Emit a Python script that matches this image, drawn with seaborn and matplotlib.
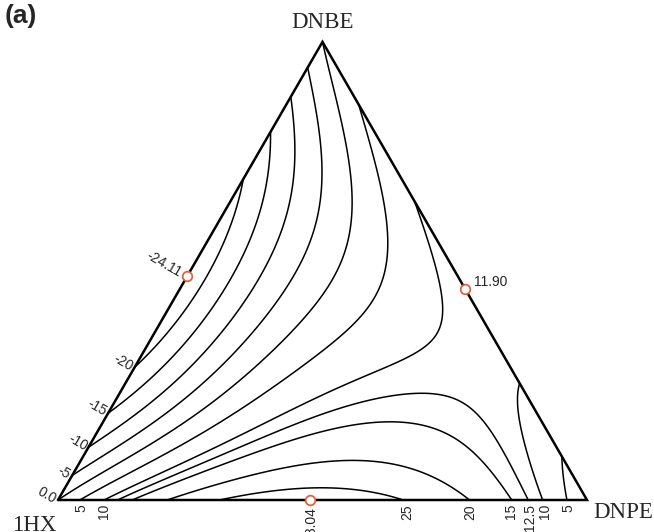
import numpy as np
import matplotlib
matplotlib.use("Agg")
import matplotlib.pyplot as plt
import matplotlib.tri as mtri
import seaborn as sns
import pandas as pd

# ---------------- data ----------------
components = ["1HX", "DNBE", "DNPE"]

# binary 1HX + DNBE (left edge): mole fraction of DNBE, value
left_t = [0.053, 0.116, 0.191, 0.289, 0.489, 0.695, 0.807, 0.882, 0.943]
left_v = [-5, -10, -15, -20, -24.11, -20, -15, -10, -5]
left_labeled = [True, True, True, True, True, False, False, False, False]

# binary DNBE + DNPE (right edge): mole fraction of DNPE, value
right_t = [0.138, 0.342, 0.539, 0.732, 0.906]
right_v = [5, 10, 11.90, 10, 5]

# binary 1HX + DNPE (bottom edge): mole fraction of DNPE, value
bottom_t = [0.042, 0.085, 0.112, 0.140, 0.208, 0.316, 0.476,
            0.658, 0.777, 0.854, 0.890, 0.917, 0.962]
bottom_v = [5, 10, 12.5, 15, 20, 25, 28.04, 25, 20, 15, 12.5, 10, 5]
bottom_labeled = [True, True, False, False, False, False, True,
                  True, True, True, True, True, True]

# interior readings of the contour lines: x_DNBE, x_DNPE, value
int_x2 = [0.614, 0.614, 0.614, 0.614, 0.614, 0.614, 0.614,
          0.373, 0.373, 0.373, 0.373, 0.373, 0.373, 0.373,
          0.241, 0.241, 0.241, 0.241, 0.241, 0.241,
          0.175, 0.175, 0.175, 0.175, 0.175, 0.175, 0.175,
          0.230, 0.167, 0.081, 0.026, 0.395, 0.336, 0.489, 0.110, 0.059,
          0.110, 0.070]
int_x3 = [0.024, 0.075, 0.126, 0.183, 0.245, 0.307, 0.377,
          0.026, 0.077, 0.130, 0.190, 0.258, 0.360, 0.542,
          0.028, 0.077, 0.142, 0.198, 0.274, 0.399,
          0.048, 0.105, 0.162, 0.231, 0.300, 0.388, 0.700,
          0.564, 0.563, 0.498, 0.482, 0.538, 0.530, 0.024, 0.847, 0.923,
          0.775, 0.800]
int_v = [-20, -15, -10, -5, 0, 5, 10,
         -20, -15, -10, -5, 0, 5, 10,
         -15, -10, -5, 0, 5, 10,
         -10, -5, 0, 5, 10, 12.5, 12.5,
         12.5, 15, 20, 25, 10, 10, -20, 10, 5,
         12.5, 15]

levels = [-20, -15, -10, -5, 0, 5, 10, 12.5, 15, 20, 25]

# ---------------- model of the surface ----------------
def rk_fit(t, v, deg):
    t = np.asarray(t, float); v = np.asarray(v, float)
    coef = np.polyfit(1 - 2 * t, v / (t * (1 - t)), deg)
    return lambda tt: tt * (1 - tt) * np.polyval(coef, 1 - 2 * tt)

g12 = rk_fit(left_t, left_v, 2)
g23 = rk_fit(right_t, right_v, 2)
g13 = rk_fit(bottom_t, bottom_v, 4)

def pair(xi, xj, g):
    s = xi + xj
    t = np.where(s > 0, xj / np.where(s > 0, s, 1.0), 0.0)
    return s ** 2 * g(t)

def base(x1, x2, x3):
    return pair(x1, x2, g12) + pair(x2, x3, g23) + pair(x1, x3, g13)

def tern_terms(x1, x2, x3):
    p = x1 * x2 * x3
    return np.stack([p, p * x1, p * x2, p * x1 * x1, p * x2 * x2, p * x1 * x2], axis=-1)

ix2 = np.array(int_x2); ix3 = np.array(int_x3); ix1 = 1 - ix2 - ix3
resid = np.array(int_v) - base(ix1, ix2, ix3)
C, *_ = np.linalg.lstsq(tern_terms(ix1, ix2, ix3), resid, rcond=None)

def field(x1, x2, x3):
    return base(x1, x2, x3) + tern_terms(x1, x2, x3) @ C

# triangular lattice
n = 240
ii, jj = np.meshgrid(np.arange(n + 1), np.arange(n + 1), indexing="ij")
mask = ii + jj <= n
I = ii[mask]; J = jj[mask]
idx = -np.ones((n + 1, n + 1), int)
idx[I, J] = np.arange(I.size)
x3g = I / n; x2g = J / n; x1g = np.clip(1 - x2g - x3g, 0, 1)
Xg = x3g + x2g / 2; Yg = x2g * np.sqrt(3) / 2
tris = []
a_i, a_j = np.nonzero((ii + jj <= n - 1))
tris.append(np.stack([idx[a_i, a_j], idx[a_i + 1, a_j], idx[a_i, a_j + 1]], 1))
b_i, b_j = np.nonzero((ii + jj <= n - 2))
tris.append(np.stack([idx[b_i + 1, b_j], idx[b_i + 1, b_j + 1], idx[b_i, b_j + 1]], 1))
triang = mtri.Triangulation(Xg, Yg, np.vstack(tris))
Z = field(x1g, x2g, x3g)

# ---------------- drawing ----------------
sns.set_style("white")
plt.rcParams["font.family"] = ["Liberation Sans", "DejaVu Sans"]

W, H = 654, 532
fig = plt.figure(figsize=(W / 100, H / 100), dpi=100)
ax = fig.add_axes([0, 0, 1, 1])
S = 529.0
ax.set_xlim(-58 / S, (W - 58) / S)
ax.set_ylim((500 - H) / S, 500 / S)
ax.set_aspect("equal")
ax.axis("off")

def px(d):
    return d / S

r3 = np.sqrt(3) / 2
tri_x = [0, 1, 0.5, 0]; tri_y = [0, 0, r3, 0]

cs = ax.tricontour(triang, Z, levels=levels, colors="black", linewidths=1.1,
                   linestyles="solid")
ax.plot(tri_x, tri_y, color="black", lw=1.8, solid_joinstyle="miter", zorder=3)

# extremum markers
imin = int(np.argmin(left_v)); jmax = int(np.argmax(right_v)); kmax = int(np.argmax(bottom_v))
right_pt = (0.5 + right_t[jmax] / 2, (1 - right_t[jmax]) * r3)
ext = pd.DataFrame({
    "X": [left_t[imin] / 2, right_pt[0], bottom_t[kmax]],
    "Y": [left_t[imin] * r3, right_pt[1], 0.0],
})
sns.scatterplot(data=ext, x="X", y="Y", ax=ax, s=48, facecolor="white",
                edgecolor="#e2603f", linewidth=1.3, zorder=5, legend=False)

fs = 10
def fmt(v, ext=False):
    return f"{v:.2f}" if ext else f"{v:g}"

# left edge labels (perpendicular to edge, ending at edge)
nrm = np.array([-r3, 0.5])
ax.text(*(np.array([0, 0]) + nrm * px(2)), "0.0", rotation=-30, rotation_mode="anchor",
        ha="right", va="center_baseline", fontsize=fs)
for t, v, lab in zip(left_t, left_v, left_labeled):
    if not lab:
        continue
    isext = (v == left_v[imin])
    p = np.array([t / 2, t * r3]) + nrm * px(7 if isext else 2)
    ax.text(*p, fmt(v, isext), rotation=-30, rotation_mode="anchor",
            ha="right", va="center_baseline", fontsize=fs)

# bottom edge labels
for t, v, lab in zip(bottom_t, bottom_v, bottom_labeled):
    if not lab:
        continue
    isext = (v == bottom_v[kmax])
    ax.text(t, -px(7 if isext else 4), fmt(v, isext), rotation=90, rotation_mode="anchor",
            ha="right", va="center_baseline", fontsize=fs)

# right edge max label
ax.text(right_pt[0] + px(9), right_pt[1] + px(6.5),
        fmt(right_v[jmax], True), ha="left", va="center", fontsize=fs)

# vertex labels
serif = ["Liberation Serif", "DejaVu Serif"]
ax.text(0.5, px(500 - 28), "DNBE", family=serif, fontsize=16.5, ha="center", va="baseline")
ax.text(px(12 - 58), px(500 - 531), "1HX", family=serif, fontsize=16.5, ha="left", va="baseline")
ax.text(px(593 - 58), px(500 - 518), "DNPE", family=serif, fontsize=16.5, ha="left", va="baseline")

fig.text(5 / W, 1 - 4 / H, "(a)", fontsize=19, fontweight="bold", ha="left", va="top")

fig.savefig("out.png", dpi=100, facecolor="white")
